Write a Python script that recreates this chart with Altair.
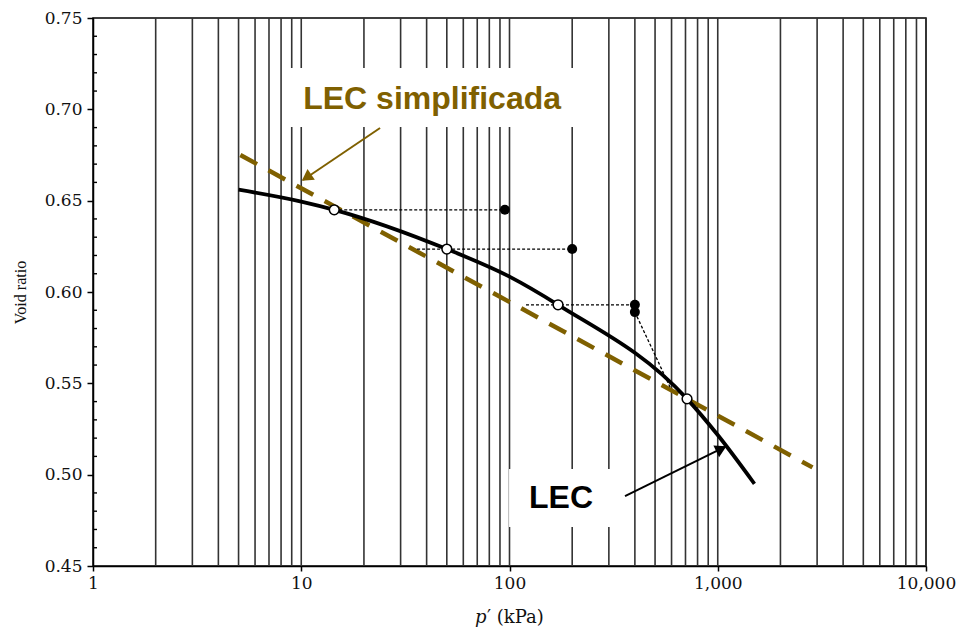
import altair as alt
import pandas as pd

# Consolidation curve (LEC): effective stress p' (kPa) vs void ratio
lec_p = [5, 10, 14.4, 50, 100, 171, 712, 1000, 1500]
lec_e = [0.656, 0.6495, 0.645, 0.6235, 0.6084, 0.593, 0.5415, 0.5217, 0.495]

# Simplified straight-line LEC (semi-log)
simp_p = [5.1, 2850]
simp_e = [0.675, 0.504]

# Test states: open = on the LEC, closed = measured states
open_p = [14.4, 50, 171, 712]
open_e = [0.645, 0.6235, 0.593, 0.5415]
closed_p = [95, 200, 400, 400]
closed_e = [0.645, 0.6235, 0.593, 0.589]

# Dotted stress paths between states
path_id = [1, 1, 2, 2, 3, 3, 4, 4]
path_p = [14.4, 95, 36, 200, 120, 400, 400, 590]
path_e = [0.645, 0.645, 0.6235, 0.6235, 0.593, 0.593, 0.589, 0.548]

# Axis ticks
x_labels = [1, 10, 100, 1000, 10000]
grid_p = [m * 10 ** k for k in range(4) for m in range(2, 11)]
y_major = [0.45, 0.50, 0.55, 0.60, 0.65, 0.70, 0.75]
y_minor = [round(0.45 + 0.01 * i, 2) for i in range(31) if i % 5 != 0]

# Annotations
box_p = [8.83, 99.5]
box_p2 = [213, 362.5]
box_e = [0.7226, 0.5031]
box_e2 = [0.6903, 0.4714]
label_text = ["LEC simplificada", "LEC"]
label_p = [42.5, 176.7]
label_e = [0.7057, 0.4875]
label_color = ["#7f6000", "#000000"]
arrow_id = [1, 1, 2, 2]
arrow_p = [23.9, 10.2, 358.6, 1083]
arrow_e = [0.6898, 0.6613, 0.4883, 0.5152]
head_p = [10.78, 1021]
head_e = [0.6632, 0.5137]
head_angle = [236, 64]
arrow_color = ["#7f6000", "#000000"]

W, H = 833, 548
OLIVE = "#7f6000"

xs = alt.Scale(type="log", domain=[1, 10000])
ys = alt.Scale(domain=[0.45, 0.75])

x_axis = alt.Axis(
    values=x_labels, labelExpr="format(datum.value, ',')", grid=False,
    tickSize=5, tickColor="black", tickWidth=1.5, domainColor="black", domainWidth=1.5,
    labelFont="DejaVu Serif", labelFontSize=17, labelColor="#111", labelPadding=4,
    title="", labelFlush=False,
)
y_axis = alt.Axis(
    values=y_major, format=".2f", grid=False,
    tickSize=6, tickColor="black", tickWidth=1.5, domainColor="black", domainWidth=1.5,
    labelFont="DejaVu Serif", labelFontSize=17, labelColor="#111", labelPadding=5,
    title="Void ratio", titleFont="Liberation Serif", titleFontSize=16, titleFontWeight="normal",
    titleColor="#111", titlePadding=16,
)

grid = alt.Chart(pd.DataFrame({"p": grid_p})).mark_rule(color="#333333", strokeWidth=1.6).encode(
    x=alt.X("p:Q", scale=xs, axis=x_axis)
)

minor = alt.Chart(pd.DataFrame({"e": y_minor})).mark_rule(color="black", strokeWidth=1.4).encode(
    y=alt.Y("e:Q", scale=ys, axis=y_axis), x=alt.value(0), x2=alt.value(4)
)

# x-axis title: italic p, then the prime and the unit
x_title_p = alt.Chart(pd.DataFrame({"t": ["p"]})).mark_text(
    font="DejaVu Serif", fontSize=18, fontStyle="italic", align="left", baseline="alphabetic", color="#111"
).encode(text="t:N", x=alt.value(382), y=alt.value(605))
x_title_rest = alt.Chart(pd.DataFrame({"t": ["′ (kPa)"]})).mark_text(
    font="DejaVu Serif", fontSize=18, align="left", baseline="alphabetic", color="#111"
).encode(text="t:N", x=alt.value(394), y=alt.value(605))

boxes = alt.Chart(pd.DataFrame({"p": box_p, "p2": box_p2, "e": box_e, "e2": box_e2})).mark_rect(
    color="white"
).encode(x=alt.X("p:Q", scale=xs), x2="p2", y=alt.Y("e:Q", scale=ys), y2="e2")

lec = alt.Chart(pd.DataFrame({"p": lec_p, "e": lec_e})).mark_line(
    color="black", strokeWidth=3.8, interpolate="monotone"
).encode(x=alt.X("p:Q", scale=xs), y=alt.Y("e:Q", scale=ys))

paths = alt.Chart(pd.DataFrame({"id": path_id, "p": path_p, "e": path_e})).mark_line(
    color="black", strokeWidth=1.3, strokeDash=[3, 2]
).encode(x=alt.X("p:Q", scale=xs), y=alt.Y("e:Q", scale=ys), detail="id:N")

simp = alt.Chart(pd.DataFrame({"p": simp_p, "e": simp_e})).mark_line(
    color=OLIVE, strokeWidth=4.5, strokeDash=[19, 13]
).encode(x=alt.X("p:Q", scale=xs), y=alt.Y("e:Q", scale=ys))

closed = alt.Chart(pd.DataFrame({"p": closed_p, "e": closed_e})).mark_point(
    filled=True, color="black", size=100, opacity=1
).encode(x=alt.X("p:Q", scale=xs), y=alt.Y("e:Q", scale=ys))

opened = alt.Chart(pd.DataFrame({"p": open_p, "e": open_e})).mark_point(
    filled=True, fill="white", stroke="black", strokeWidth=1.5, size=95, opacity=1
).encode(x=alt.X("p:Q", scale=xs), y=alt.Y("e:Q", scale=ys))

labels = alt.Chart(pd.DataFrame({"t": label_text, "p": label_p, "e": label_e, "c": label_color})).mark_text(
    font="Liberation Sans", fontSize=32, fontWeight="bold", align="center", baseline="middle"
).encode(
    x=alt.X("p:Q", scale=xs), y=alt.Y("e:Q", scale=ys), text="t:N",
    color=alt.Color("c:N", scale=None),
)

arrows = alt.Chart(pd.DataFrame({"id": arrow_id, "p": arrow_p, "e": arrow_e,
                                 "c": [arrow_color[0]] * 2 + [arrow_color[1]] * 2})).mark_line(
    strokeWidth=2
).encode(
    x=alt.X("p:Q", scale=xs), y=alt.Y("e:Q", scale=ys), detail="id:N",
    color=alt.Color("c:N", scale=None),
)

heads = alt.Chart(pd.DataFrame({"p": head_p, "e": head_e, "a": head_angle, "c": arrow_color})).mark_point(
    shape="triangle", filled=True, size=170, opacity=1
).encode(
    x=alt.X("p:Q", scale=xs), y=alt.Y("e:Q", scale=ys), angle=alt.Angle("a:Q", scale=None),
    color=alt.Color("c:N", scale=None),
)

chart = alt.layer(
    grid, minor, boxes, simp, lec, paths, closed, opened, labels, arrows, heads,
    x_title_p, x_title_rest,
).properties(
    width=W, height=H,
    autosize=alt.AutoSizeParams(type="none"),
    padding={"left": 93, "top": 18, "right": 39, "bottom": 69},
    background="white",
).configure_view(stroke="black", strokeWidth=1.5)

chart.save("out.html", embed_options={"renderer": "svg", "actions": False})
